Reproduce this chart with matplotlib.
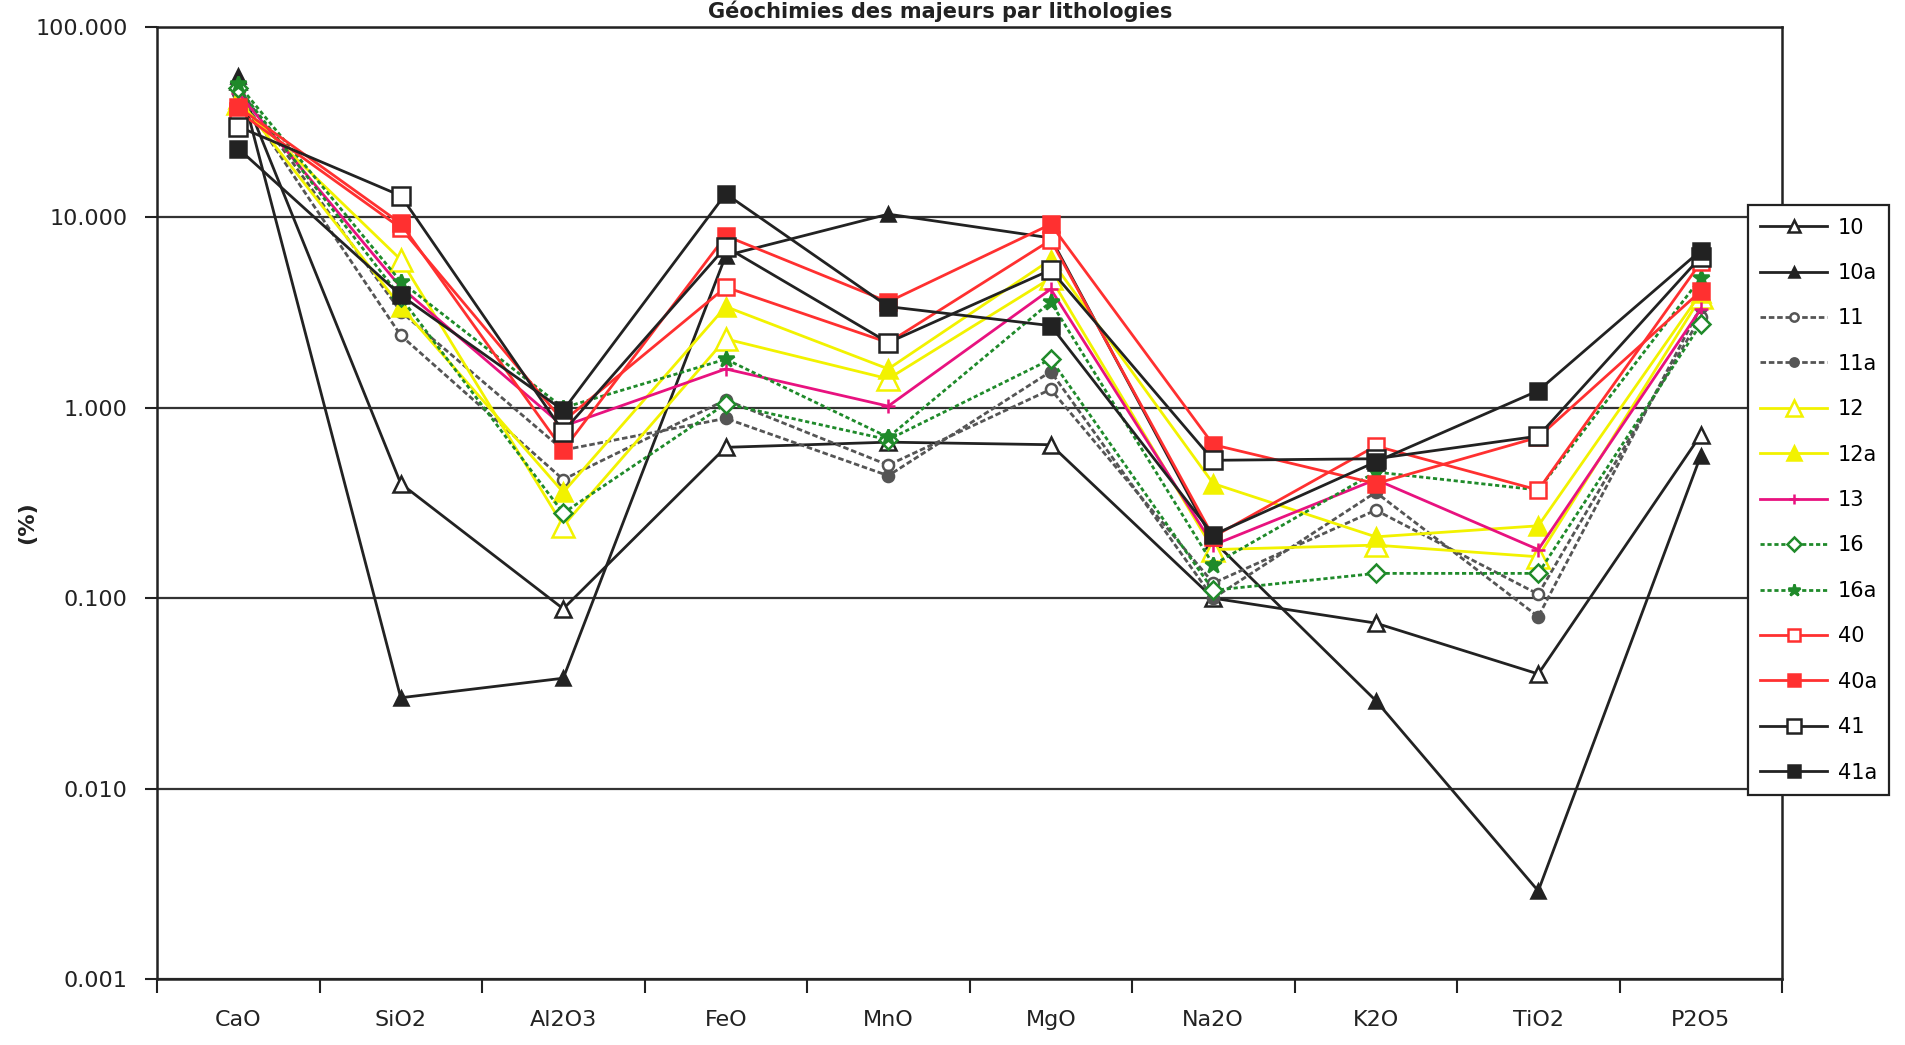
import numpy as np
import matplotlib
matplotlib.use("Agg")
import matplotlib.pyplot as plt

# oxides on the x axis
oxides = ["CaO", "SiO2", "Al2O3", "FeO", "MnO", "MgO", "Na2O", "K2O", "TiO2", "P2O5"]

# values (%), one list per lithology
s10 = [52, 0.40, 0.088, 0.62, 0.66, 0.64, 0.10, 0.074, 0.040, 0.72]
s10a = [55, 0.030, 0.038, 6.3, 10.4, 7.8, 0.20, 0.029, 0.0029, 0.56]
s11 = [45, 2.4, 0.42, 1.10, 0.50, 1.25, 0.12, 0.29, 0.105, 3.0]
s11a = [48, 3.2, 0.60, 0.88, 0.44, 1.55, 0.10, 0.36, 0.080, 3.4]
s12 = [40, 6.0, 0.24, 2.3, 1.42, 4.8, 0.18, 0.19, 0.165, 3.8]
s12a = [42, 3.4, 0.36, 3.4, 1.60, 6.0, 0.40, 0.21, 0.24, 4.0]
s13 = [45, 4.3, 0.80, 1.60, 1.02, 4.2, 0.19, 0.42, 0.18, 3.3]
s16 = [48, 3.8, 0.28, 1.05, 0.68, 1.8, 0.11, 0.135, 0.135, 2.75]
s16a = [50, 4.6, 1.00, 1.80, 0.70, 3.6, 0.15, 0.46, 0.37, 4.8]
s40 = [36, 8.8, 0.85, 4.3, 2.2, 7.6, 0.21, 0.63, 0.37, 5.8]
s40a = [38, 9.3, 0.60, 8.0, 3.6, 9.2, 0.64, 0.40, 0.70, 4.1]
s41 = [30, 13.0, 0.75, 7.0, 2.2, 5.3, 0.53, 0.54, 0.71, 6.2]
s41a = [23, 3.9, 0.97, 13.3, 3.4, 2.7, 0.215, 0.52, 1.23, 6.7]

labels = ["10", "10a", "11", "11a", "12", "12a", "13", "16", "16a", "40", "40a", "41", "41a"]
series = [s10, s10a, s11, s11a, s12, s12a, s13, s16, s16a, s40, s40a, s41, s41a]

black = "#222222"
grey = "#555555"
yellow = "#f2f200"
pink = "#e8127f"
green = "#1f8a2a"
red = "#ff3030"

# colour, linestyle, marker, filled, marker size
styles = [
    (black, "-", "^", False, 11),
    (black, "-", "^", True, 10),
    (grey, (0, (2, 1)), "o", False, 8),
    (grey, (0, (2, 1)), "o", True, 8),
    (yellow, "-", "^", False, 16),
    (yellow, "-", "^", True, 13),
    (pink, "-", "+", False, 10),
    (green, (0, (1.5, 1)), "D", False, 9),
    (green, (0, (1.5, 1)), "*", True, 12),
    (red, "-", "s", False, 12),
    (red, "-", "s", True, 12),
    (black, "-", "s", False, 13),
    (black, "-", "s", True, 11),
]

fig = plt.figure(figsize=(19.06, 10.45), dpi=100)
ax = fig.add_axes([157 / 1906, 1 - 979 / 1045, (1782 - 157) / 1906, (979 - 27) / 1045])

x = np.arange(len(oxides))
for vals, lab, (col, ls, mk, filled, ms) in zip(series, labels, styles):
    ax.plot(x, vals, color=col, linestyle=ls, linewidth=2.0, marker=mk,
            markersize=ms, markerfacecolor=col if filled else "white",
            markeredgecolor=col, markeredgewidth=1.8, label=lab)

ax.set_yscale("log")
ax.set_ylim(0.001, 100)
ax.set_xlim(-0.5, len(oxides) - 0.5)

yt = [0.001, 0.01, 0.1, 1, 10, 100]
ax.set_yticks(yt)
ax.set_yticklabels(["0.001", "0.010", "0.100", "1.000", "10.000", "100.000"])
ax.minorticks_off()
ax.yaxis.grid(True, color="#333333", linewidth=1.6)
ax.set_axisbelow(True)

# ticks between categories, labels at category centres
ax.set_xticks(np.arange(-0.5, len(oxides), 1.0))
ax.set_xticklabels([])
ax.set_xticks(x, minor=True)
ax.set_xticklabels(oxides, minor=True)
ax.tick_params(axis="x", which="major", length=10, width=1.5, color=black, direction="out")
ax.tick_params(axis="x", which="minor", length=0, pad=22, labelsize=16, labelcolor="#222222")
ax.tick_params(axis="y", which="major", length=9, width=1.5, color=black, pad=12,
               labelsize=16, labelcolor="#222222")

for sp in ax.spines.values():
    sp.set_color(black)
    sp.set_linewidth(1.8)

fig.text(940 / 1906, 1 - 1 / 1045, "Géochimies des majeurs par lithologies",
         ha="center", va="top", fontsize=15, fontweight="bold", color="#222222")
fig.text(27 / 1906, 0.5, "(%)", rotation=90, ha="center", va="center",
         fontsize=16, fontweight="bold", color="#222222")

leg = ax.legend(loc="upper left", bbox_to_anchor=(1748 / 1906, 1 - 205 / 1045),
                bbox_transform=fig.transFigure, borderaxespad=0, fontsize=15,
                frameon=True, fancybox=False, framealpha=1, edgecolor=black,
                handlelength=3.2, handletextpad=0.5, labelspacing=1.22,
                borderpad=0.6, markerscale=0.75)
leg.get_frame().set_linewidth(1.6)

fig.savefig("out.png", dpi=100)
